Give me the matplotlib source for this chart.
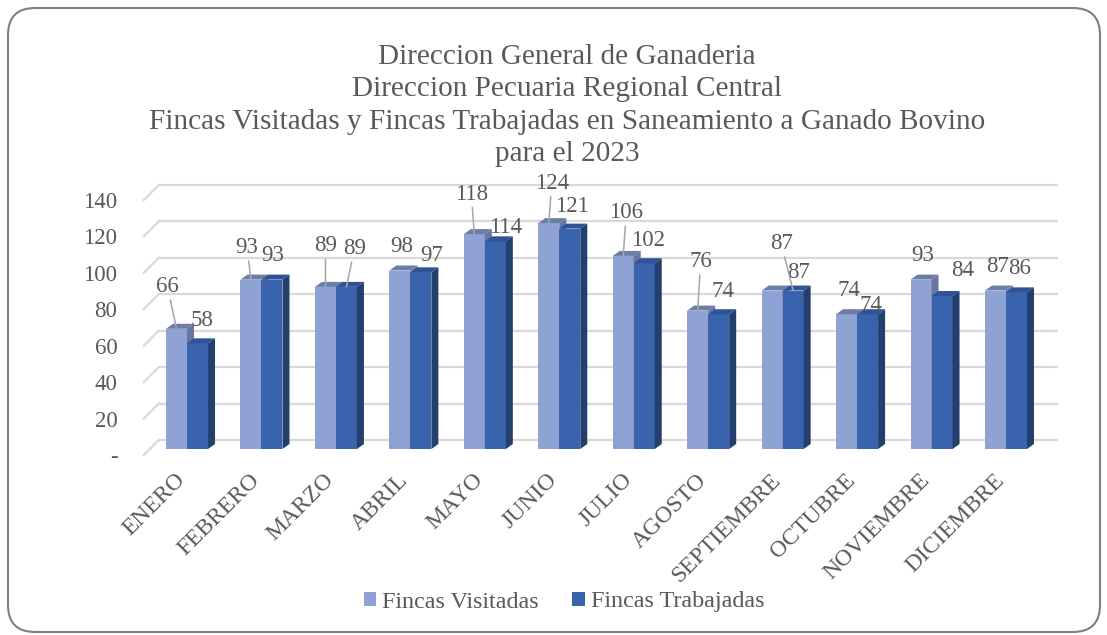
import matplotlib
matplotlib.use('Agg')
import matplotlib.pyplot as plt
from matplotlib.patches import Polygon, FancyBboxPatch, Patch
from matplotlib.transforms import offset_copy

# Datos del grafico
meses = ['ENERO', 'FEBRERO', 'MARZO', 'ABRIL', 'MAYO', 'JUNIO', 'JULIO',
         'AGOSTO', 'SEPTIEMBRE', 'OCTUBRE', 'NOVIEMBRE', 'DICIEMBRE']
fincas_visitadas = [66, 93, 89, 98, 118, 124, 106, 76, 87, 74, 93, 87]
fincas_trabajadas = [58, 93, 89, 97, 114, 121, 102, 74, 87, 74, 84, 86]
y_ticks = [0, 20, 40, 60, 80, 100, 120, 140]
y_tick_labels = ['-', '20', '40', '60', '80', '100', '120', '140']
titulo = ['Direccion General de Ganaderia',
          'Direccion Pecuaria Regional Central',
          'Fincas Visitadas y Fincas Trabajadas en Saneamiento a Ganado Bovino',
          'para el 2023']
series = ['Fincas Visitadas', 'Fincas Trabajadas']

# Posicion de las etiquetas (dx, dy en pixeles desde el tope de la barra, linea guia)
off_visitadas = [(-9, 42, True), (-4, 32, True), (0, 41, True), (2, 24, False),
                 (-3, 40, True), (3, 40, True), (3, 43, True), (3, 49, True),
                 (26, 18, False), (2, 24, False), (2, 24, False), (2, 24, False)]
off_trabajadas = [(4, 23, False), (1, 24, False), (8, 38, True), (11, 17, False),
                  (10, 14, False), (2, 22, False), (4, 23, False), (4, 23, False),
                  (-12, 47, True), (3, 9, False), (21, 26, False), (3, 24, False)]

W, H = 1107, 635
GRIS = '#595959'
C_VIS = ('#8EA2D4', '#6C7DAA', '#66769F')
C_TRA = ('#3A63AD', '#2E5496', '#233F6E')
FUENTE = 'Liberation Serif'
plt.rcParams['font.family'] = FUENTE

fig = plt.figure(figsize=(W / 100, H / 100), dpi=100)

# Marco redondeado
marco = FancyBboxPatch((8, 3), 1092, 624, boxstyle='round,pad=0,rounding_size=27',
                       transform=None, facecolor='none', edgecolor='#7F7F7F',
                       linewidth=1.5, zorder=-1)
fig.patches.append(marco)

ax = fig.add_axes([143.8 / W, 180 / H, 899 / W, 255 / H])
ax.set_xlim(-0.5, 11.575)
ax.set_ylim(0, 140)
ax.patch.set_visible(False)
for s in ax.spines.values():
    s.set_visible(False)
ax.set_xticks([])
ax.set_yticks(y_ticks)
ax.set_yticklabels(y_tick_labels, fontsize=16.5, color=GRIS)
ax.tick_params(axis='y', length=0, pad=19)

p0 = ax.transData.transform((0, 0))
p1 = ax.transData.transform((1, 1))
ppx, ppy = p1[0] - p0[0], p1[1] - p0[1]

# Lineas de cuadricula (pared del fondo y diagonales)
fondo = offset_copy(ax.transData, fig, x=15, y=15, units='dots')
xl0, xl1 = ax.get_xlim()
ax.hlines(y_ticks, xl0, xl1, transform=fondo, color='#D9D9D9', lw=1.6,
          clip_on=False, zorder=1)
for t in y_ticks:
    ax.plot([xl0, xl0 + 15 / ppx], [t, t + 15 / ppy], color='#D9D9D9', lw=1.6,
            clip_on=False, zorder=1)

# Barras 3D
trans_barra = offset_copy(ax.transData, fig, x=6, y=6, units='dots')
ancho = 21 / ppx
dxd, dyd = 7 / ppx, 5 / ppy
x = list(range(len(meses)))


def barras_3d(xs, valores, colores, z):
    ax.bar(xs, valores, width=ancho, color=colores[0], transform=trans_barra,
           clip_on=False, zorder=z, linewidth=0)
    for xc, v in zip(xs, valores):
        a, b = xc - ancho / 2, xc + ancho / 2
        tope = [(a, v), (b, v), (b + dxd, v + dyd), (a + dxd, v + dyd)]
        lado = [(b, 0), (b, v), (b + dxd, v + dyd), (b + dxd, dyd)]
        ax.add_patch(Polygon(tope, closed=True, facecolor=colores[1], lw=0,
                             transform=trans_barra, clip_on=False, zorder=z))
        ax.add_patch(Polygon(lado, closed=True, facecolor=colores[2], lw=0,
                             transform=trans_barra, clip_on=False, zorder=z))


x_vis = [i - ancho / 2 for i in x]
x_tra = [i + ancho / 2 for i in x]
barras_3d(x_vis, fincas_visitadas, C_VIS, 3)
barras_3d(x_tra, fincas_trabajadas, C_TRA, 4)

# Etiquetas de datos
for xs, valores, offs in ((x_vis, fincas_visitadas, off_visitadas),
                          (x_tra, fincas_trabajadas, off_trabajadas)):
    for xc, v, (dx, dy, guia) in zip(xs, valores, offs):
        props = None
        if guia:
            props = dict(arrowstyle='-', color='#A6A6A6', lw=1.1,
                         shrinkA=0, shrinkB=0)
        ax.annotate(str(v), xy=(xc, v), xycoords=trans_barra,
                    xytext=(dx, dy), textcoords='offset pixels',
                    ha='center', va='center', fontsize=16.5, color=GRIS,
                    arrowprops=props, annotation_clip=False, zorder=6)

# Etiquetas de categorias
trans_cat = offset_copy(ax.transData, fig, x=1, y=-22, units='dots')
for i, mes in zip(x, meses):
    ax.text(i, 0, mes, transform=trans_cat, rotation=45, ha='right', va='center',
            rotation_mode='anchor', fontsize=17, color=GRIS, clip_on=False)

# Titulo
for k, linea in enumerate(titulo):
    fig.text(567 / W, 1 - (64 + 32.5 * k) / H, linea, ha='center', va='baseline',
             fontsize=21.1, color=GRIS)

# Leyenda
handles = [Patch(facecolor=C_VIS[0]), Patch(facecolor=C_TRA[0])]
fig.legend(handles, series, loc='center', bbox_to_anchor=(564 / W, 1 - 602 / H),
           ncol=2, frameon=False, fontsize=17.4, handlelength=0.5, handleheight=0.5,
           handletextpad=0.25, columnspacing=1.4, labelcolor=GRIS)

fig.savefig('out.png', dpi=100)
